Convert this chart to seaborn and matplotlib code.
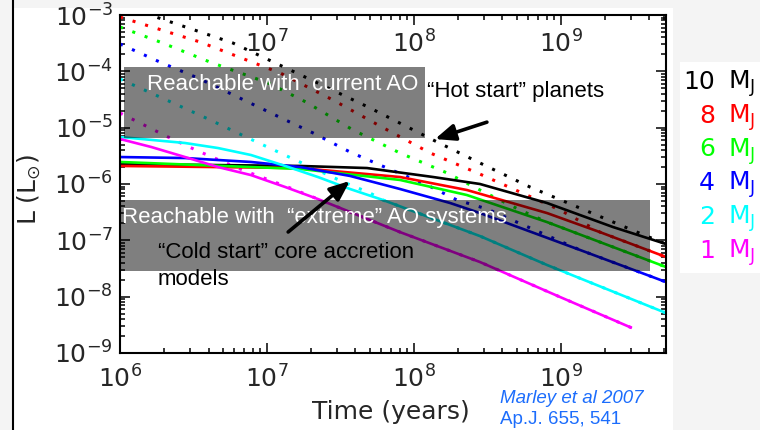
import math
import matplotlib
matplotlib.use("Agg")
import matplotlib.pyplot as plt
import matplotlib.transforms as mtransforms
from matplotlib.patches import Rectangle
from matplotlib.lines import Line2D
import seaborn as sns

# ---- evolution tracks: age (years) and luminosity (L_sun) ----
# cold start (core accretion), solid lines
age_10_cold = [1.0e6, 1.68e7, 4.79e7, 1.35e8, 2.81e8, 8.03e8, 2.26e9, 5.18e9]
lum_10_cold = [2.26e-6, 2.09e-6, 1.92e-6, 1.33e-6, 1.00e-6, 4.60e-7, 1.72e-7, 8.6e-8]
age_8_cold = [1.0e6, 1.68e7, 8.03e7, 2.29e8, 8.03e8, 1.84e9, 5.18e9]
lum_8_cold = [2.09e-6, 1.92e-6, 1.33e-6, 7.82e-7, 3.05e-7, 1.40e-7, 5.06e-8]
age_6_cold = [1.0e6, 1.68e7, 8.03e7, 2.29e8, 8.03e8, 5.18e9]
lum_6_cold = [2.46e-6, 1.85e-6, 1.18e-6, 6.37e-7, 2.11e-7, 3.36e-8]
age_4_cold = [1.0e6, 2.77e6, 7.78e6, 1.68e7, 3.67e7, 8.03e7, 1.76e8, 2.81e8, 1.35e9, 5.18e9]
lum_4_cold = [3.01e-6, 2.89e-6, 2.46e-6, 2.00e-6, 1.39e-6, 8.15e-7, 4.60e-7, 3.05e-7, 6.73e-8, 1.82e-8]
age_2_cold = [1.0e6, 2.77e6, 4.64e6, 7.78e6, 1.33e7, 2.22e7, 3.67e7, 6.15e7, 2.81e8, 8.03e8, 5.18e9]
lum_2_cold = [6.83e-6, 5.34e-6, 4.35e-6, 3.27e-6, 2.09e-6, 1.33e-6, 8.15e-7, 5.20e-7, 1.19e-7, 3.65e-8, 5.13e-9]
age_1_cold = [1.0e6, 1.63e6, 2.77e6, 4.64e6, 7.78e6, 1.33e7, 2.22e7, 8.03e7, 2.81e8, 9.85e8, 3.04e9]
lum_1_cold = [6.29e-6, 4.54e-6, 3.01e-6, 2.00e-6, 1.44e-6, 8.84e-7, 5.41e-7, 1.40e-7, 4.12e-8, 9.86e-9, 2.78e-9]

# hot start, dotted lines
age_10_hot = [1.0e6, 1.6e6, 5.87e6, 1.70e7, 5.02e7, 1.35e8, 2.81e8, 6.15e8, 1.50e9, 3.29e9, 5.18e9]
lum_10_hot = [1.5e-3, 1.0e-3, 3.18e-4, 8.60e-5, 2.24e-5, 6.04e-6, 2.36e-6, 8.84e-7, 3.32e-7, 1.40e-7, 8.6e-8]
age_8_hot = [1.0e6, 3.50e6, 1.23e7, 2.81e7, 5.87e7, 1.29e8, 2.81e8, 5.26e8, 9.85e8, 1.84e9, 5.18e9]
lum_8_hot = [9.21e-4, 3.32e-4, 9.34e-5, 3.10e-5, 1.07e-5, 3.55e-6, 1.50e-6, 7.21e-7, 3.45e-7, 1.40e-7, 5.06e-8]
age_6_hot = [1.0e6, 1.87e6, 4.10e6, 1.02e7, 1.84e7, 3.85e7, 8.03e7, 1.68e8, 2.81e8, 5.26e8, 8.03e8, 5.18e9]
lum_6_hot = [6.12e-4, 3.32e-4, 1.46e-4, 6.21e-5, 2.85e-5, 9.09e-6, 3.55e-6, 1.57e-6, 7.82e-7, 3.45e-7, 2.11e-7, 3.36e-8]
age_4_hot = [1.0e6, 1.87e6, 3.39e6, 7.20e6, 1.29e7, 2.06e7, 3.67e7, 5.87e7, 1.23e8, 1.96e8, 3.14e8, 1.35e9, 5.18e9]
lum_4_hot = [3.06e-4, 1.46e-4, 7.61e-5, 2.97e-5, 1.43e-5, 8.04e-6, 3.70e-6, 2.17e-6, 9.59e-7, 5.20e-7, 3.60e-7, 6.73e-8, 1.82e-8]
age_2_hot = [1.0e6, 1.87e6, 3.97e6, 7.20e6, 1.46e7, 3.29e7, 5.02e7, 6.15e7, 2.81e8, 8.03e8, 5.18e9]
lum_2_hot = [7.31e-5, 3.50e-5, 1.43e-5, 6.83e-6, 2.89e-6, 1.09e-6, 6.92e-7, 5.20e-7, 1.19e-7, 3.65e-8, 5.13e-9]
age_1_hot = [1.0e6, 1.60e6, 2.12e6, 3.39e6, 7.09e6, 1.33e7, 2.22e7, 8.03e7, 2.81e8, 9.85e8, 3.04e9]
lum_1_hot = [1.82e-5, 9.86e-6, 6.83e-6, 3.85e-6, 1.70e-6, 9.21e-7, 5.41e-7, 1.40e-7, 4.12e-8, 9.86e-9, 2.78e-9]

masses = ["10", "8", "6", "4", "2", "1"]
mass_colors = ["#000000", "#ff0000", "#00ff00", "#0000ff", "#00ffff", "#ff00ff"]
cold_tracks = [(age_10_cold, lum_10_cold), (age_8_cold, lum_8_cold), (age_6_cold, lum_6_cold),
               (age_4_cold, lum_4_cold), (age_2_cold, lum_2_cold), (age_1_cold, lum_1_cold)]
hot_tracks = [(age_10_hot, lum_10_hot), (age_8_hot, lum_8_hot), (age_6_hot, lum_6_hot),
              (age_4_hot, lum_4_hot), (age_2_hot, lum_2_hot), (age_1_hot, lum_1_hot)]

# detectability regions: (age range, luminosity range)
current_ao_age = [1.065e6, 1.188e8]
current_ao_lum = [6.55e-6, 1.194e-4]
extreme_ao_age = [1.0e6, 4.03e9]
extreme_ao_lum = [2.85e-8, 5.20e-7]

x_major = [1e6, 1e7, 1e8, 1e9]
top_labels = [1e7, 1e8, 1e9]

sns.set_style("ticks")
plt.rcParams["font.family"] = ["DejaVu Sans"]
plt.rcParams["mathtext.fontset"] = "dejavusans"

fig = plt.figure(figsize=(7.6, 4.3), dpi=100)
fig.patch.set_facecolor("#f4f4f4")

# white page area, key panel and left rule
fig.patches.append(Rectangle((0.0171, 0.0), 0.8684, 0.9814, transform=fig.transFigure,
                             facecolor="white", edgecolor="none", zorder=-10))
fig.patches.append(Rectangle((0.895, 0.365), 0.105, 0.491, transform=fig.transFigure,
                             facecolor="white", edgecolor="none", zorder=-10))
fig.lines.append(Line2D([0.0171, 0.0171], [0.0, 1.0], transform=fig.transFigure,
                        color="black", lw=1.5))

ax = fig.add_axes([0.1579, 0.1791, 0.7184, 0.7860])
ax.set_facecolor("white")
ax.set_xscale("log")
ax.set_yscale("log")

dot_style = (0, (1, 3.3))
for (t, L), c in zip(hot_tracks, mass_colors):
    sns.lineplot(x=t, y=L, ax=ax, color=c, lw=2.2, linestyle=dot_style,
                 estimator=None, sort=False, zorder=2)
for (t, L), c in zip(cold_tracks, mass_colors):
    sns.lineplot(x=t, y=L, ax=ax, color=c, lw=1.9, estimator=None, sort=False,
                 zorder=2, solid_capstyle="butt")

ax.set_xlim(1e6, 5.18e9)
ax.set_ylim(1e-9, 1e-3)

# shaded detectability regions
for ages, lums in [(current_ao_age, current_ao_lum), (extreme_ao_age, extreme_ao_lum)]:
    ax.add_patch(Rectangle((ages[0], lums[0]), ages[1] - ages[0], lums[1] - lums[0],
                           facecolor="black", alpha=0.5, edgecolor="none", zorder=3))

# axes styling
for s in ax.spines.values():
    s.set_linewidth(1.5)
    s.set_color("black")
ax.set_xticks(x_major)
ax.tick_params(which="both", direction="in", top=True, right=True, color="black")
ax.tick_params(which="major", length=7, width=1.1)
ax.tick_params(which="minor", length=3.5, width=1.1)
ax.tick_params(axis="x", which="major", labelsize=18, pad=9)
ax.tick_params(axis="y", which="major", labelsize=18, pad=5)
ax.set_xlabel("")
ax.set_ylabel("")

blend = mtransforms.blended_transform_factory(ax.transData, ax.transAxes)
for t in top_labels:
    exp = int(round(math.log10(t)))
    ax.text(t, 0.888, rf"$10^{{{exp}}}$", transform=blend, ha="center", va="baseline",
            fontsize=18, zorder=5)

fig.text(0.514, 0.0256, "Time (years)", ha="center", va="baseline", fontsize=18)
fig.text(0.038, 0.558, r"L (L$_{\odot}$)", ha="center", va="center", rotation=90, fontsize=18)

# annotations
af = dict(family="Liberation Sans", fontsize=16)
ax.text(0.0495, 0.778, "Reachable with  current AO", transform=ax.transAxes,
        color="white", va="baseline", zorder=6, **af)
ax.text(0.562, 0.757, "\u201cHot start\u201d planets", transform=ax.transAxes,
        color="black", va="baseline", zorder=6, **af)
ax.text(0.004, 0.385, "Reachable with  \u201cextreme\u201d AO systems", transform=ax.transAxes,
        color="white", va="baseline", zorder=6, **af)
ax.text(0.0696, 0.281, "\u201cCold start\u201d core accretion", transform=ax.transAxes,
        color="black", va="baseline", zorder=6, **af)
ax.text(0.0696, 0.201, "models", transform=ax.transAxes,
        color="black", va="baseline", zorder=6, **af)

arrow = dict(arrowstyle="-|>,head_length=0.6,head_width=0.25", lw=2.6, color="black",
             mutation_scale=20, shrinkA=0, shrinkB=0)
ax.annotate("", xy=(0.577, 0.633), xytext=(0.672, 0.683), xycoords="axes fraction",
            textcoords="axes fraction", arrowprops=arrow, zorder=6)
ax.annotate("", xy=(0.421, 0.509), xytext=(0.308, 0.358), xycoords="axes fraction",
            textcoords="axes fraction", arrowprops=arrow, zorder=6)

# mass key
row_base = 1 - 89 / 430
row_step = 33.7 / 430
for i, (m, c) in enumerate(zip(masses, mass_colors)):
    y = row_base - i * row_step
    fig.text(0.941, y, m, color=c, ha="right", va="baseline", fontsize=18)
    fig.text(0.958, y, r"M$_{\rm J}$", color=c, ha="left", va="baseline", fontsize=18)

# reference
fig.text(0.658, 1 - 403 / 430, "Marley et al 2007", color="#1c6dfc", family="Liberation Sans",
         style="italic", fontsize=13.5, va="baseline")
fig.text(0.658, 1 - 424 / 430, "Ap.J. 655, 541", color="#1c6dfc", family="Liberation Sans",
         fontsize=13.5, va="baseline")

fig.savefig("out.png", dpi=100, facecolor=fig.get_facecolor())
